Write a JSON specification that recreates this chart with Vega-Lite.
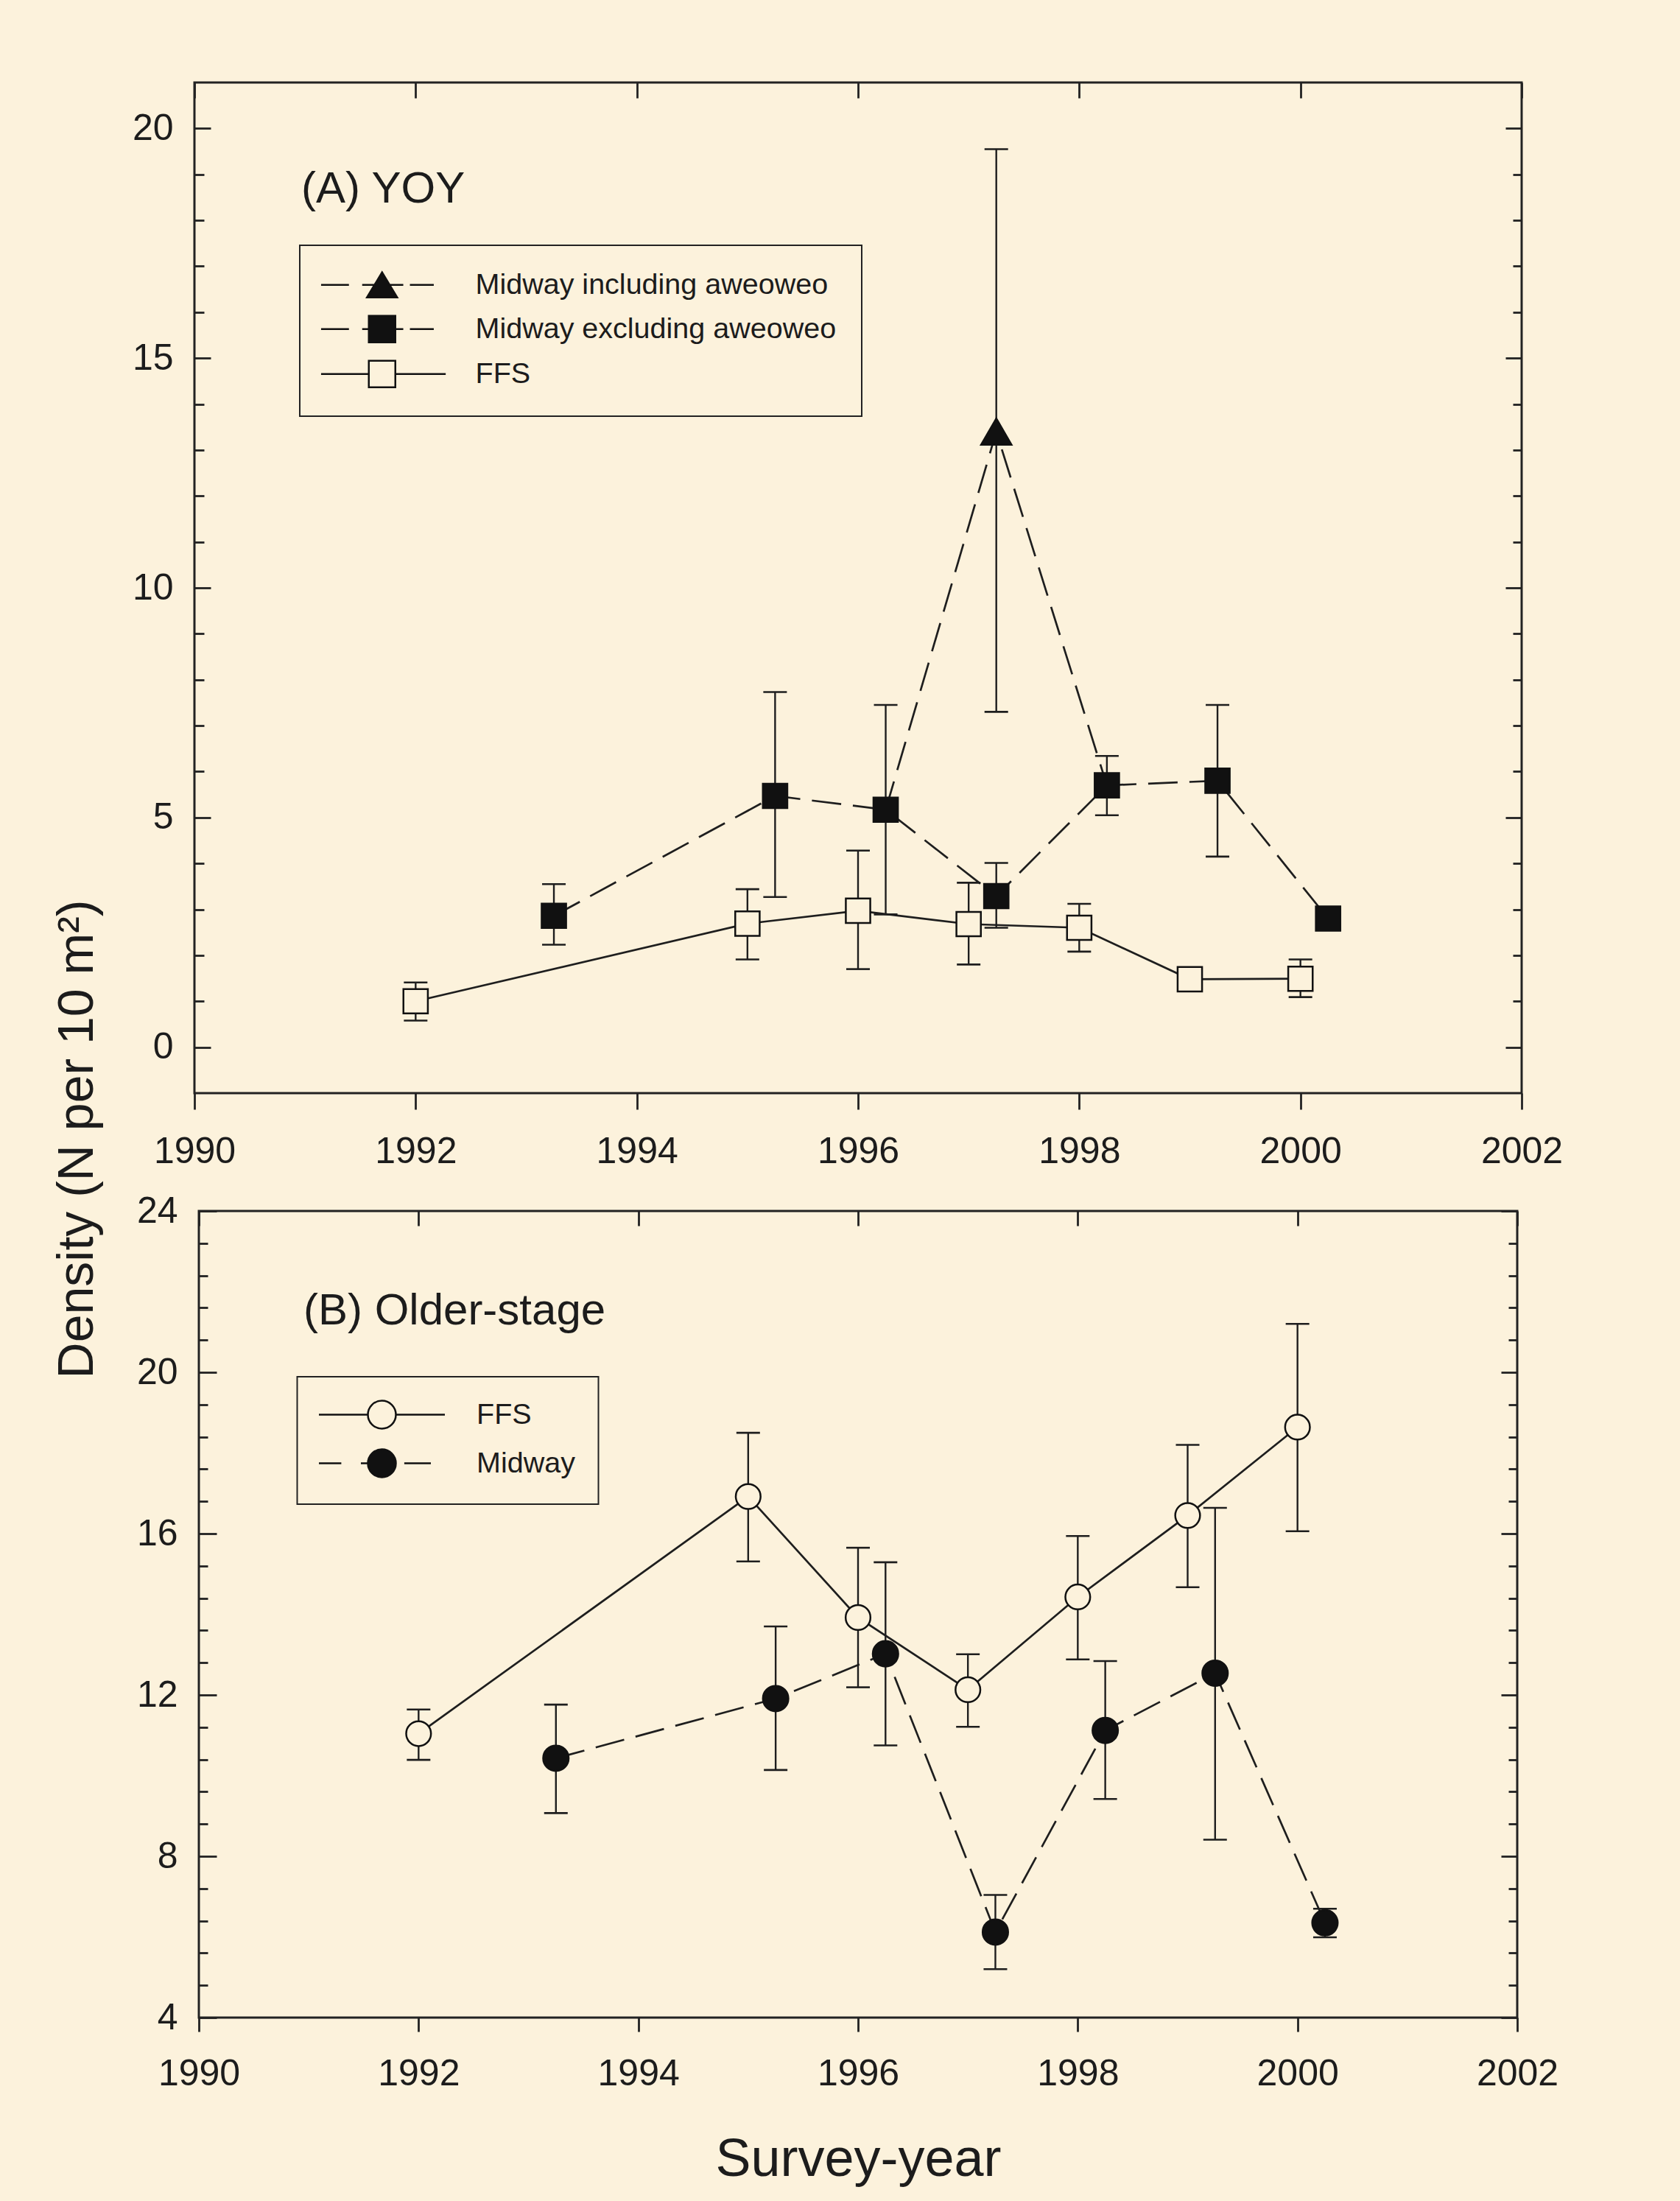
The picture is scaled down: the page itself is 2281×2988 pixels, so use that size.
{
  "$schema": "https://vega.github.io/schema/vega-lite/v6.json",
  "background": "#fcf2dc",
  "padding": {"left": 69, "top": 109, "right": 217, "bottom": 22},
  "spacing": 160,
  "bounds": "flush",
  "center": true,
  "resolve": {
    "scale": {"shape": "independent", "fill": "independent", "stroke": "independent"},
    "legend": {"shape": "independent", "fill": "independent", "stroke": "independent"}
  },
  "datasets": {
    "yoy": [
      {"series": "FFS", "year": 1992, "mean": 1.0, "lo": 0.58, "hi": 1.41},
      {"series": "FFS", "year": 1995, "mean": 2.69, "lo": 1.91, "hi": 3.44},
      {"series": "FFS", "year": 1996, "mean": 2.97, "lo": 1.70, "hi": 4.28},
      {"series": "FFS", "year": 1997, "mean": 2.68, "lo": 1.80, "hi": 3.58},
      {"series": "FFS", "year": 1998, "mean": 2.60, "lo": 2.08, "hi": 3.12},
      {"series": "FFS", "year": 1999, "mean": 1.48, "lo": 1.40, "hi": 1.56},
      {"series": "FFS", "year": 2000, "mean": 1.49, "lo": 1.09, "hi": 1.91},
      {"series": "Midway excluding aweoweo", "year": 1993.25, "mean": 2.86, "lo": 2.23, "hi": 3.55},
      {"series": "Midway excluding aweoweo", "year": 1995.25, "mean": 5.47, "lo": 3.27, "hi": 7.73},
      {"series": "Midway excluding aweoweo", "year": 1996.25, "mean": 5.17, "lo": 2.89, "hi": 7.45},
      {"series": "Midway excluding aweoweo", "year": 1997.25, "mean": 3.29, "lo": 2.60, "hi": 4.01},
      {"series": "Midway excluding aweoweo", "year": 1998.25, "mean": 5.70, "lo": 5.05, "hi": 6.34},
      {"series": "Midway excluding aweoweo", "year": 1999.25, "mean": 5.80, "lo": 4.15, "hi": 7.45},
      {"series": "Midway excluding aweoweo", "year": 2000.25, "mean": 2.80, "lo": null, "hi": null},
      {"series": "Midway including aweoweo", "year": 1997.25, "mean": 13.4, "lo": 7.3, "hi": 19.55}
    ],
    "yoy_incl_path": [
      {"series": "Midway including aweoweo", "year": 1996.25, "mean": 5.17},
      {"series": "Midway including aweoweo", "year": 1997.25, "mean": 13.4},
      {"series": "Midway including aweoweo", "year": 1998.25, "mean": 5.70}
    ],
    "older": [
      {"series": "FFS", "year": 1992, "mean": 11.04, "lo": 10.39, "hi": 11.64},
      {"series": "FFS", "year": 1995, "mean": 16.92, "lo": 15.31, "hi": 18.50},
      {"series": "FFS", "year": 1996, "mean": 13.92, "lo": 12.19, "hi": 15.65},
      {"series": "FFS", "year": 1997, "mean": 12.13, "lo": 11.21, "hi": 13.01},
      {"series": "FFS", "year": 1998, "mean": 14.43, "lo": 12.88, "hi": 15.94},
      {"series": "FFS", "year": 1999, "mean": 16.45, "lo": 14.67, "hi": 18.20},
      {"series": "FFS", "year": 2000, "mean": 18.64, "lo": 16.06, "hi": 21.20},
      {"series": "Midway", "year": 1993.25, "mean": 10.43, "lo": 9.07, "hi": 11.76},
      {"series": "Midway", "year": 1995.25, "mean": 11.91, "lo": 10.14, "hi": 13.70},
      {"series": "Midway", "year": 1996.25, "mean": 13.02, "lo": 10.75, "hi": 15.29},
      {"series": "Midway", "year": 1997.25, "mean": 6.12, "lo": 5.20, "hi": 7.04},
      {"series": "Midway", "year": 1998.25, "mean": 11.12, "lo": 9.42, "hi": 12.84},
      {"series": "Midway", "year": 1999.25, "mean": 12.54, "lo": 8.41, "hi": 16.64},
      {"series": "Midway", "year": 2000.25, "mean": 6.35, "lo": 5.99, "hi": 6.70}
    ]
  },
  "vconcat": [
    {
      "width": 1802,
      "height": 1372,
      "title": {"text": "(A) YOY", "anchor": "start", "frame": "group", "orient": "top", "offset": 0, "dx": 145, "dy": 224, "baseline": "alphabetic", "fontSize": 60, "font": "Liberation Sans", "fontWeight": "normal", "color": "#1c1c1c"},
      "data": {"name": "yoy"},
      "layer": [
        {
          "mark": {"type": "rule", "strokeWidth": 2.4, "color": "#1e1e1e"},
          "encoding": {
            "x": {"field": "year", "type": "quantitative", "scale": {"domain": [1990, 2002], "nice": false, "zero": false},
              "axis": {"orient": "bottom", "values": [1990, 1992, 1994, 1996, 1998, 2000, 2002], "format": "d", "tickSize": 22, "labelPadding": 32, "title": null}},
            "y": {"field": "lo", "type": "quantitative", "scale": {"domain": [-1, 21], "nice": false, "zero": false},
              "axis": {"orient": "left", "values": [0, 5, 10, 15, 20], "format": "d", "tickSize": -22, "labelPadding": 51,
                "title": "Density (N per 10 m²)", "titleX": -139, "titleY": 1434, "titleAngle": 270, "titleBaseline": "alphabetic", "titleAlign": "center", "titleFontSize": 68}},
            "y2": {"field": "hi"}
          }
        },
        {
          "mark": {"type": "tick", "orient": "horizontal", "size": 32, "thickness": 2.6, "color": "#1e1e1e", "opacity": 1},
          "encoding": {
            "x": {"field": "year", "type": "quantitative", "axis": {"orient": "top", "values": [1990, 1992, 1994, 1996, 1998, 2000, 2002], "labels": false, "tickSize": -21, "title": null}},
            "y": {"field": "lo", "type": "quantitative", "axis": {"orient": "right", "values": [0, 5, 10, 15, 20], "labels": false, "tickSize": -22, "title": null}}
          }
        },
        {
          "mark": {"type": "tick", "orient": "horizontal", "size": 32, "thickness": 2.6, "color": "#1e1e1e", "opacity": 1},
          "encoding": {
            "x": {"field": "year", "type": "quantitative", "axis": null},
            "y": {"field": "hi", "type": "quantitative", "axis": {"orient": "left", "values": [1, 2, 3, 4, 6, 7, 8, 9, 11, 12, 13, 14, 16, 17, 18, 19], "labels": false, "tickSize": -13, "title": null}}
          }
        },
        {
          "transform": [{"filter": "datum.series === 'FFS'"}],
          "mark": {"type": "line", "strokeWidth": 2.7, "color": "#1e1e1e"},
          "encoding": {
            "x": {"field": "year", "type": "quantitative", "axis": null},
            "y": {"field": "mean", "type": "quantitative", "axis": {"orient": "right", "values": [1, 2, 3, 4, 6, 7, 8, 9, 11, 12, 13, 14, 16, 17, 18, 19], "labels": false, "tickSize": -12, "title": null}}
          }
        },
        {
          "transform": [{"filter": "datum.series === 'Midway excluding aweoweo'"}],
          "mark": {"type": "line", "strokeWidth": 2.7, "color": "#1e1e1e", "strokeDash": [40, 16]},
          "encoding": {
            "x": {"field": "year", "type": "quantitative", "axis": null},
            "y": {"field": "mean", "type": "quantitative", "axis": null}
          }
        },
        {
          "data": {"name": "yoy_incl_path"},
          "mark": {"type": "line", "strokeWidth": 2.7, "color": "#1e1e1e", "strokeDash": [40, 16]},
          "encoding": {
            "x": {"field": "year", "type": "quantitative", "axis": null},
            "y": {"field": "mean", "type": "quantitative", "axis": null}
          }
        },
        {
          "mark": {"type": "point", "filled": true, "stroke": "#111111", "strokeWidth": 2.5, "opacity": 1},
          "encoding": {
            "x": {"field": "year", "type": "quantitative", "axis": null},
            "y": {"field": "mean", "type": "quantitative", "axis": null},
            "shape": {"condition": {"test": "datum.series === 'Midway including aweoweo'", "value": "triangle-up"}, "value": "square"},
            "fill": {"condition": {"test": "datum.series === 'FFS'", "value": "#fcf2dc"}, "value": "#111111"},
            "size": {"condition": {"test": "datum.series === 'Midway including aweoweo'", "value": 1700}, "value": 1100}
          }
        },
        {
          "mark": {"type": "point", "filled": true, "opacity": 0, "strokeWidth": 2.5},
          "encoding": {
            "x": {"field": "year", "type": "quantitative", "axis": null},
            "y": {"field": "mean", "type": "quantitative", "axis": null},
            "fill": {"field": "series", "type": "nominal",
              "scale": {"domain": ["Midway including aweoweo", "Midway excluding aweoweo", "FFS"], "range": ["#111111", "#111111", "#fcf2dc"]}},
            "stroke": {"field": "series", "type": "nominal",
              "scale": {"domain": ["Midway including aweoweo", "Midway excluding aweoweo", "FFS"], "range": ["#111111", "#111111", "#111111"]}},
            "shape": {"field": "series", "type": "nominal",
              "scale": {"domain": ["Midway including aweoweo", "Midway excluding aweoweo", "FFS"],
                "range": [
                  "M-4.6,0H-2.5M-1.5,0H-0.57M0,-0.95L1.14,0.95L-1.14,0.95ZM0.57,0H1.6M2.1,0H3.9",
                  "M-4.6,0H-2.5M-1.5,0H-1M-1,-1H1V1H-1ZM1,0H1.6M2.1,0H3.9",
                  "M-4.6,0H-1M-1,-1H1V1H-1ZM1,0H4.8"
                ]},
              "legend": {
                "title": null, "orient": "none", "legendX": 143, "legendY": 221,
                "padding": 34, "strokeColor": "#222222", "fillColor": "#fcf2dc",
                "symbolSize": 1296, "symbolStrokeWidth": 2.5, "symbolStrokeColor": "#111111", "symbolOpacity": 1,
                "symbolOffset": 58, "labelOffset": 107, "rowPadding": 14,
                "labelFont": "Liberation Sans", "labelFontSize": 39.5, "labelLimit": 800, "labelColor": "#1c1c1c"
              }}
          }
        }
      ],
      "resolve": {"axis": {"x": "independent", "y": "independent"}}
    },
    {
      "width": 1790,
      "height": 1095,
      "title": {"text": "(B) Older-stage", "anchor": "start", "frame": "group", "orient": "top", "offset": 0, "dx": 142, "dy": 239, "baseline": "alphabetic", "fontSize": 60, "font": "Liberation Sans", "fontWeight": "normal", "color": "#1c1c1c"},
      "data": {"name": "older"},
      "layer": [
        {
          "mark": {"type": "rule", "strokeWidth": 2.4, "color": "#1e1e1e"},
          "encoding": {
            "x": {"field": "year", "type": "quantitative", "scale": {"domain": [1990, 2002], "nice": false, "zero": false},
              "axis": {"orient": "bottom", "values": [1990, 1992, 1994, 1996, 1998, 2000, 2002], "format": "d", "tickSize": 19, "labelPadding": 32,
                "title": "Survey-year", "titleFontSize": 72, "titleBaseline": "alphabetic", "titleY": 214}},
            "y": {"field": "lo", "type": "quantitative", "scale": {"domain": [4, 24], "nice": false, "zero": false},
              "axis": {"orient": "left", "values": [4, 8, 12, 16, 20, 24], "format": "d", "tickSize": -24, "labelPadding": 53, "title": null}},
            "y2": {"field": "hi"}
          }
        },
        {
          "mark": {"type": "tick", "orient": "horizontal", "size": 32, "thickness": 2.6, "color": "#1e1e1e", "opacity": 1},
          "encoding": {
            "x": {"field": "year", "type": "quantitative", "axis": {"orient": "top", "values": [1990, 1992, 1994, 1996, 1998, 2000, 2002], "labels": false, "tickSize": -20, "title": null}},
            "y": {"field": "lo", "type": "quantitative", "axis": {"orient": "right", "values": [4, 8, 12, 16, 20, 24], "labels": false, "tickSize": -22, "title": null}}
          }
        },
        {
          "mark": {"type": "tick", "orient": "horizontal", "size": 32, "thickness": 2.6, "color": "#1e1e1e", "opacity": 1},
          "encoding": {
            "x": {"field": "year", "type": "quantitative", "axis": null},
            "y": {"field": "hi", "type": "quantitative", "axis": {"orient": "left", "values": [4.8, 5.6, 6.4, 7.2, 8.8, 9.6, 10.4, 11.2, 12.8, 13.6, 14.4, 15.2, 16.8, 17.6, 18.4, 19.2, 20.8, 21.6, 22.4, 23.2], "labels": false, "tickSize": -12, "title": null}}
          }
        },
        {
          "transform": [{"filter": "datum.series === 'FFS'"}],
          "mark": {"type": "line", "strokeWidth": 2.7, "color": "#1e1e1e"},
          "encoding": {
            "x": {"field": "year", "type": "quantitative", "axis": null},
            "y": {"field": "mean", "type": "quantitative", "axis": {"orient": "right", "values": [4.8, 5.6, 6.4, 7.2, 8.8, 9.6, 10.4, 11.2, 12.8, 13.6, 14.4, 15.2, 16.8, 17.6, 18.4, 19.2, 20.8, 21.6, 22.4, 23.2], "labels": false, "tickSize": -12, "title": null}}
          }
        },
        {
          "transform": [{"filter": "datum.series === 'Midway'"}],
          "mark": {"type": "line", "strokeWidth": 2.7, "color": "#1e1e1e", "strokeDash": [40, 16]},
          "encoding": {
            "x": {"field": "year", "type": "quantitative", "axis": null},
            "y": {"field": "mean", "type": "quantitative", "axis": null}
          }
        },
        {
          "mark": {"type": "point", "shape": "circle", "filled": true, "stroke": "#111111", "strokeWidth": 2.5, "opacity": 1},
          "encoding": {
            "x": {"field": "year", "type": "quantitative", "axis": null},
            "y": {"field": "mean", "type": "quantitative", "axis": null},
            "fill": {"condition": {"test": "datum.series === 'FFS'", "value": "#fcf2dc"}, "value": "#111111"},
            "size": {"condition": {"test": "datum.series === 'FFS'", "value": 1134}, "value": 1195}
          }
        },
        {
          "mark": {"type": "point", "filled": true, "opacity": 0, "strokeWidth": 2.5},
          "encoding": {
            "x": {"field": "year", "type": "quantitative", "axis": null},
            "y": {"field": "mean", "type": "quantitative", "axis": null},
            "fill": {"field": "series", "type": "nominal",
              "scale": {"domain": ["FFS", "Midway"], "range": ["#fcf2dc", "#111111"]}},
            "stroke": {"field": "series", "type": "nominal",
              "scale": {"domain": ["FFS", "Midway"], "range": ["#111111", "#111111"]}},
            "shape": {"field": "series", "type": "nominal",
              "scale": {"domain": ["FFS", "Midway"],
                "range": [
                  "M-4.5,0H-1M-1,0A1,1,0,1,1,1,0A1,1,0,1,1,-1,0ZM1,0H4.5",
                  "M-4.5,0H-2.9M-1.5,0H-1M-1,0A1,1,0,1,1,1,0A1,1,0,1,1,-1,0ZM1.6,0H3.5"
                ]},
              "legend": {
                "title": null, "orient": "none", "legendX": 133.5, "legendY": 225,
                "padding": 31, "strokeColor": "#222222", "fillColor": "#fcf2dc",
                "symbolSize": 1444, "symbolStrokeWidth": 2.5, "symbolStrokeColor": "#111111", "symbolOpacity": 1,
                "symbolOffset": 63.5, "labelOffset": 108, "rowPadding": 17,
                "labelFont": "Liberation Sans", "labelFontSize": 39.5, "labelLimit": 800, "labelColor": "#1c1c1c"
              }}
          }
        }
      ],
      "resolve": {"axis": {"x": "independent", "y": "independent"}}
    }
  ],
  "config": {
    "background": "#fcf2dc",
    "view": {"stroke": "#222222", "strokeWidth": 3},
    "axis": {
      "domain": false, "grid": false, "ticks": true,
      "tickColor": "#222222", "tickWidth": 2.8,
      "labelFont": "Liberation Sans", "labelFontSize": 50, "labelColor": "#1c1c1c",
      "labelFlush": false, "labelOverlap": false,
      "titleFont": "Liberation Sans", "titleFontWeight": "normal", "titleColor": "#1c1c1c"
    },
    "legend": {"strokeWidth": 2}
  }
}
